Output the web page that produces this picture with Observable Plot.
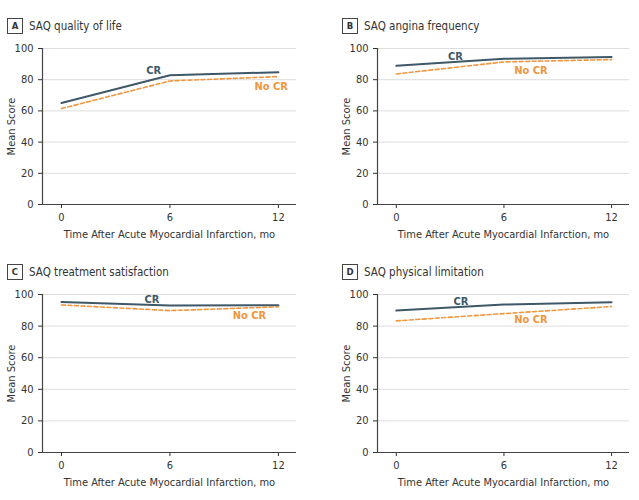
<!DOCTYPE html>
<html>
<head>
<meta charset="utf-8">
<script src="https://cdn.jsdelivr.net/npm/d3@7"></script>
<script src="https://cdn.jsdelivr.net/npm/@observablehq/plot@0.6"></script>
<style>
  html, body { margin: 0; padding: 0; background: #fff; }
  body { width: 639px; height: 500px; position: relative; overflow: hidden;
         font-family: "Liberation Sans Narrow", "DejaVu Sans Condensed", sans-serif; color: #333; }
  .panel { position: absolute; }
  .ptitle { position: absolute; font-size: 11.5px; color: #333; display: flex; align-items: center; white-space: nowrap; }
  .ptitle .box { display: inline-block; border: 1px solid #444; width: 14px; height: 14px; line-height: 14px;
                 text-align: center; font-weight: bold; font-size: 9.5px; margin-right: 6px; }
</style>
</head>
<body>
<script>
// ---- data ----
const months = [0, 6, 12];
const panelLetters = ["A", "B", "C", "D"];
const panelTitles = ["SAQ quality of life", "SAQ angina frequency", "SAQ treatment satisfaction", "SAQ physical limitation"];
const crValues = [
  [65.1, 82.9, 84.8],
  [88.9, 93.4, 94.6],
  [95.3, 93.0, 93.2],
  [89.8, 93.6, 95.1]
];
const noCrValues = [
  [61.5, 79.2, 82.0],
  [83.7, 91.4, 92.9],
  [93.4, 89.8, 92.2],
  [83.3, 87.9, 92.4]
];
const seriesNames = ["CR", "No CR"];
// label anchor points (data coordinates: month, score)
const crLabelAt = [[5.1, 85.8], [3.3, 95.2], [5.0, 97.0], [3.6, 95.4]];
const noCrLabelAt = [[11.6, 75.8], [7.5, 86.0], [10.4, 87.0], [7.5, 84.2]];
const yTicks = [0, 20, 40, 60, 80, 100];
const xTicks = [0, 6, 12];
const xLabel = "Time After Acute Myocardial Infarction, mo";
const yLabel = "Mean Score";

const colors = { "CR": "#3f5868", "No CR": "#f0963e" };

const layout = [
  { left: 0,   top: 0,   width: 310, height: 250, mt: 48, mb: 46, ml: 42, mr: 14, tx: 7,   ty: 18 },
  { left: 335, top: 0,   width: 304, height: 250, mt: 48, mb: 46, ml: 42, mr: 10, tx: 342, ty: 18 },
  { left: 0,   top: 250, width: 310, height: 250, mt: 44, mb: 48, ml: 42, mr: 14, tx: 7,   ty: 264 },
  { left: 335, top: 250, width: 304, height: 250, mt: 44, mb: 48, ml: 42, mr: 10, tx: 342, ty: 264 }
];

panelTitles.forEach((title, i) => {
  const L = layout[i];
  const rows = [];
  months.forEach((m, j) => {
    rows.push({ month: m, score: crValues[i][j], series: seriesNames[0] });
    rows.push({ month: m, score: noCrValues[i][j], series: seriesNames[1] });
  });
  const labels = [
    { month: crLabelAt[i][0], score: crLabelAt[i][1], series: seriesNames[0] },
    { month: noCrLabelAt[i][0], score: noCrLabelAt[i][1], series: seriesNames[1] }
  ];

  const chart = Plot.plot({
    width: L.width,
    height: L.height,
    marginTop: L.mt,
    marginBottom: L.mb,
    marginLeft: L.ml,
    marginRight: L.mr,
    style: { fontFamily: '"Liberation Sans Narrow", "DejaVu Sans Condensed", sans-serif', fontSize: "11px", color: "#333", background: "transparent" },
    x: { domain: [-1.05, 13], ticks: xTicks, tickSize: 4, label: xLabel, labelAnchor: "center", labelArrow: "none", labelOffset: 33 },
    y: { domain: [0, 100], ticks: yTicks, tickSize: 4, label: yLabel, labelAnchor: "center", labelArrow: "none", labelOffset: 35, grid: false },
    marks: [
      Plot.gridY(yTicks.filter(t => t > 0), { stroke: "#dddddd", strokeOpacity: 1, strokeWidth: 1 }),
      Plot.ruleY([0], { stroke: "#444", strokeWidth: 1.2 }),
      Plot.ruleX([-1.05], { stroke: "#444", strokeWidth: 1.2 }),
      Plot.line(rows.filter(d => d.series === "CR"), { x: "month", y: "score", stroke: colors["CR"], strokeWidth: 2 }),
      Plot.line(rows.filter(d => d.series === "No CR"), { x: "month", y: "score", stroke: colors["No CR"], strokeWidth: 1.6, strokeDasharray: "4,2.5" }),
      Plot.text(labels, { x: "month", y: "score", text: "series", fill: d => colors[d.series], fontWeight: "bold", fontSize: 11 })
    ]
  });
  const div = document.createElement("div");
  div.className = "panel";
  div.style.left = L.left + "px";
  div.style.top = L.top + "px";
  div.appendChild(chart);
  document.body.appendChild(div);

  const t = document.createElement("div");
  t.className = "ptitle";
  t.style.left = L.tx + "px";
  t.style.top = L.ty + "px";
  const box = document.createElement("span");
  box.className = "box";
  box.textContent = panelLetters[i];
  t.appendChild(box);
  t.appendChild(document.createTextNode(title));
  document.body.appendChild(t);
});
</script>
</body>
</html>
